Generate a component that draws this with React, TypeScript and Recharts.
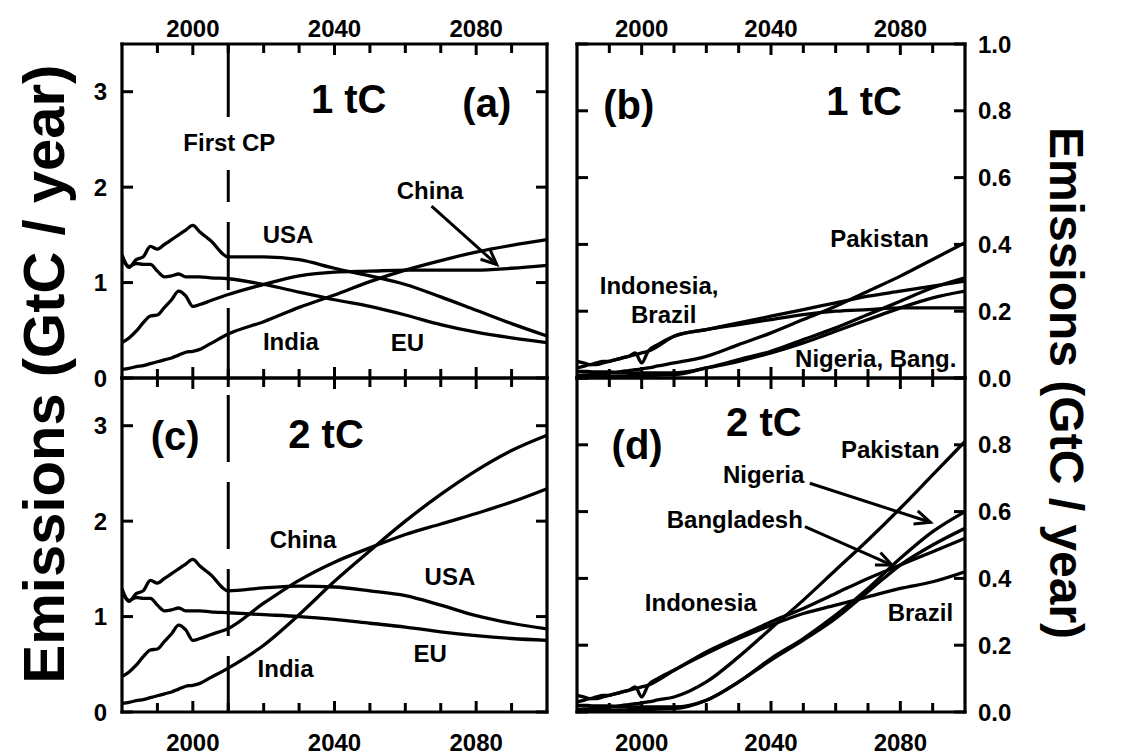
import React from 'react';
import { LineChart, Line, XAxis, YAxis, ReferenceLine, ReferenceDot } from 'recharts';

// years shared by every series
const histYears = [1980, 1982, 1984, 1986, 1988, 1990, 1992, 1994, 1996, 1998, 2000, 2002, 2005, 2010];
const projYears = [2020, 2030, 2040, 2050, 2060, 2070, 2080, 2090, 2100];

// large emitters, historical (GtC / year)
const usaHist = [1.29, 1.16, 1.24, 1.27, 1.38, 1.35, 1.4, 1.45, 1.5, 1.55, 1.6, 1.53, 1.44, 1.27];
const euHist = [1.25, 1.17, 1.2, 1.19, 1.19, 1.12, 1.06, 1.07, 1.09, 1.06, 1.06, 1.06, 1.05, 1.04];
const chinaHist = [0.37, 0.42, 0.49, 0.58, 0.65, 0.66, 0.74, 0.82, 0.91, 0.86, 0.75, 0.77, 0.81, 0.875];
const indiaHist = [0.09, 0.1, 0.12, 0.13, 0.15, 0.17, 0.19, 0.21, 0.24, 0.27, 0.28, 0.3, 0.36, 0.46];

// large emitters, 1 tC per capita
const usa1 = [1.27, 1.24, 1.15, 1.07, 0.98, 0.85, 0.71, 0.57, 0.44];
const eu1 = [0.98, 0.9, 0.82, 0.75, 0.66, 0.56, 0.48, 0.42, 0.37];
const china1 = [0.98, 1.07, 1.11, 1.12, 1.13, 1.13, 1.13, 1.15, 1.18];
const india1 = [0.59, 0.74, 0.87, 1.01, 1.13, 1.23, 1.32, 1.39, 1.45];

// large emitters, 2 tC per capita
const usa2 = [1.3, 1.32, 1.31, 1.27, 1.22, 1.12, 1.01, 0.93, 0.87];
const eu2 = [1.02, 1.0, 0.97, 0.93, 0.89, 0.84, 0.8, 0.77, 0.75];
const china2 = [1.14, 1.38, 1.57, 1.72, 1.86, 1.97, 2.08, 2.2, 2.34];
const india2 = [0.7, 1.02, 1.37, 1.69, 2.0, 2.28, 2.53, 2.74, 2.9];

// smaller emitters, historical
const indoHist = [0.03, 0.035, 0.04, 0.04, 0.045, 0.05, 0.055, 0.06, 0.065, 0.075, 0.045, 0.08, 0.1, 0.125];
const brazilHist = [0.05, 0.045, 0.04, 0.045, 0.05, 0.05, 0.055, 0.06, 0.065, 0.07, 0.075, 0.08, 0.095, 0.125];
const pakHist = [0.008, 0.009, 0.01, 0.011, 0.013, 0.015, 0.017, 0.02, 0.022, 0.025, 0.027, 0.03, 0.036, 0.045];
const nigHist = [0.02, 0.02, 0.019, 0.018, 0.018, 0.018, 0.017, 0.016, 0.016, 0.015, 0.015, 0.015, 0.015, 0.015];
const bangHist = [0.003, 0.003, 0.004, 0.004, 0.005, 0.005, 0.006, 0.006, 0.007, 0.007, 0.007, 0.008, 0.009, 0.01];

// smaller emitters, 1 tC
const indo1 = [0.145, 0.165, 0.185, 0.205, 0.225, 0.245, 0.26, 0.275, 0.29];
const brazil1 = [0.145, 0.16, 0.175, 0.19, 0.2, 0.205, 0.21, 0.21, 0.21];
const pak1 = [0.065, 0.1, 0.135, 0.175, 0.215, 0.26, 0.305, 0.355, 0.405];
const nig1 = [0.03, 0.055, 0.08, 0.115, 0.15, 0.19, 0.23, 0.27, 0.3];
const bang1 = [0.03, 0.05, 0.075, 0.105, 0.14, 0.175, 0.21, 0.24, 0.26];

// smaller emitters, 2 tC
const indo2 = [0.18, 0.225, 0.27, 0.31, 0.355, 0.4, 0.44, 0.48, 0.52];
const brazil2 = [0.175, 0.22, 0.26, 0.295, 0.32, 0.345, 0.37, 0.39, 0.42];
const pak2 = [0.09, 0.165, 0.25, 0.335, 0.425, 0.515, 0.61, 0.71, 0.81];
const nig2 = [0.035, 0.09, 0.16, 0.22, 0.29, 0.37, 0.46, 0.54, 0.6];
const bang2 = [0.035, 0.09, 0.155, 0.215, 0.28, 0.36, 0.44, 0.5, 0.55];

const bigNames = ['USA', 'EU', 'China', 'India'];
const smallNames = ['Indonesia', 'Brazil', 'Pakistan', 'Nigeria', 'Bangladesh'];

const xTicks = [1990, 2000, 2010, 2020, 2030, 2040, 2050, 2060, 2070, 2080, 2090];
const xLabels = [2000, 2040, 2080];
const bigTicks = [0, 1, 2, 3];
const smallTicks = [0, 0.2, 0.4, 0.6, 0.8, 1.0];
const smallTicksLower = [0, 0.2, 0.4, 0.6, 0.8];

const buildRows = (names: string[], hist: number[][], proj: number[][]) => [
  ...histYears.map((year, i) => {
    const r: any = { year };
    names.forEach((n, k) => (r[n] = hist[k][i]));
    return r;
  }),
  ...projYears.map((year, i) => {
    const r: any = { year };
    names.forEach((n, k) => (r[n] = proj[k][i]));
    return r;
  }),
];

const bigHist = [usaHist, euHist, chinaHist, indiaHist];
const smallHist = [indoHist, brazilHist, pakHist, nigHist, bangHist];
const dataA = buildRows(bigNames, bigHist, [usa1, eu1, china1, india1]);
const dataC = buildRows(bigNames, bigHist, [usa2, eu2, china2, india2]);
const dataB = buildRows(smallNames, smallHist, [indo1, brazil1, pak1, nig1, bang1]);
const dataD = buildRows(smallNames, smallHist, [indo2, brazil2, pak2, nig2, bang2]);

const FONT = "Arial, 'Liberation Sans', Helvetica, sans-serif";
const PAD = { l: 70, r: 70, t: 45, b: 45 };
const AXIS = { stroke: '#000', strokeWidth: 3.2, strokeLinecap: 'square' as const };
const LW = 3.3;

type Side = 'top' | 'bottom' | 'left' | 'right';

const tickShape = (side: Side, labels: number[], fmt: (v: number) => string, longSet: number[]) => (p: any) => {
  const { x, y, payload } = p;
  const v = payload.value as number;
  const len = longSet.includes(v) ? 11 : 9;
  const show = labels.includes(v);
  const ln = { stroke: '#000', strokeWidth: 3 };
  const tx = { fontSize: 24, fontWeight: 'bold' as const, fontFamily: FONT, fill: '#000' };
  if (side === 'bottom')
    return (
      <g>
        <line x1={x} y1={y} x2={x} y2={y - len} {...ln} />
        {show && <text x={x} y={y + 30} textAnchor="middle" dominantBaseline="central" {...tx}>{fmt(v)}</text>}
      </g>
    );
  if (side === 'top')
    return (
      <g>
        <line x1={x} y1={y} x2={x} y2={y + len} {...ln} />
        {show && <text x={x} y={y - 16} textAnchor="middle" dominantBaseline="central" {...tx}>{fmt(v)}</text>}
      </g>
    );
  if (side === 'left')
    return (
      <g>
        <line x1={x} y1={y} x2={x + len} y2={y} {...ln} />
        {show && <text x={x - 15} y={y} textAnchor="end" dominantBaseline="central" {...tx}>{fmt(v)}</text>}
      </g>
    );
  return (
    <g>
      <line x1={x} y1={y} x2={x - len} y2={y} {...ln} />
      {show && <text x={x + 13} y={y} textAnchor="start" dominantBaseline="central" {...tx}>{fmt(v)}</text>}
    </g>
  );
};

const note = (key: string, x: number, y: number, text: string, size = 24) => (
  <ReferenceDot
    key={key}
    xAxisId="b"
    yAxisId="l"
    x={x}
    y={y}
    r={0}
    ifOverflow="visible"
    shape={(p: any) => (
      <text x={p.cx} y={p.cy} textAnchor="middle" dominantBaseline="central" fontSize={size} fontWeight="bold" fontFamily={FONT} fill="#000">
        {text}
      </text>
    )}
  />
);

const ArrowShape = (p: any) => {
  const { x1, y1, x2, y2 } = p;
  const a = Math.atan2(y2 - y1, x2 - x1);
  const L = 17;
  const s = 0.42;
  const h1 = [x2 - L * Math.cos(a - s), y2 - L * Math.sin(a - s)];
  const h2 = [x2 - L * Math.cos(a + s), y2 - L * Math.sin(a + s)];
  return (
    <g>
      <line x1={x1} y1={y1} x2={x2} y2={y2} stroke="#000" strokeWidth={3} />
      <polyline points={`${h1[0]},${h1[1]} ${x2},${y2} ${h2[0]},${h2[1]}`} fill="none" stroke="#000" strokeWidth={3} />
    </g>
  );
};

const arrow = (key: string, from: [number, number], to: [number, number]) => (
  <ReferenceLine
    key={key}
    xAxisId="b"
    yAxisId="l"
    segment={[{ x: from[0], y: from[1] }, { x: to[0], y: to[1] }]}
    ifOverflow="visible"
    shape={(p: any) => <ArrowShape {...p} />}
  />
);

const firstCP = (key: string, dash: string, offset: number) => (
  <ReferenceLine
    key={key}
    xAxisId="b"
    yAxisId="l"
    x={2010}
    shape={(p: any) => (
      <line
        x1={p.x1}
        x2={p.x1}
        y1={Math.min(p.y1, p.y2)}
        y2={Math.max(p.y1, p.y2)}
        stroke="#000"
        strokeWidth={3}
        strokeDasharray={dash}
        strokeDashoffset={offset}
      />
    )}
  />
);

type PanelProps = {
  box: { left: number; top: number; width: number; height: number };
  data: any[];
  series: string[];
  yMax: number;
  yTicks: number[];
  yLabels: number[];
  xSide: 'top' | 'bottom';
  ySide: 'left' | 'right';
  yFmt: (v: number) => string;
  children?: React.ReactNode;
};

function Panel({ box, data, series, yMax, yTicks, yLabels, xSide, ySide, yFmt, children }: PanelProps) {
  const w = box.width + PAD.l + PAD.r;
  const h = box.height + PAD.t + PAD.b;
  const xf = (v: number) => String(v);
  return (
    <div style={{ position: 'absolute', left: box.left - PAD.l, top: box.top - PAD.t }}>
      <LineChart width={w} height={h} data={data} margin={{ top: 0, right: 0, bottom: 0, left: 0 }}>
        <XAxis xAxisId="b" orientation="bottom" dataKey="year" type="number" domain={[1980, 2100]} ticks={xTicks} interval={0} height={PAD.b} tickSize={0} tickMargin={0} tickLine={false} axisLine={AXIS} tick={tickShape('bottom', xSide === 'bottom' ? xLabels : [], xf, xLabels)} allowDataOverflow />
        <XAxis xAxisId="t" orientation="top" dataKey="year" type="number" domain={[1980, 2100]} ticks={xTicks} interval={0} height={PAD.t} tickSize={0} tickMargin={0} tickLine={false} axisLine={AXIS} tick={tickShape('top', xSide === 'top' ? xLabels : [], xf, xLabels)} allowDataOverflow />
        <YAxis yAxisId="l" orientation="left" type="number" domain={[0, yMax]} ticks={yTicks} interval={0} width={PAD.l} tickSize={0} tickMargin={0} tickLine={false} axisLine={AXIS} tick={tickShape('left', ySide === 'left' ? yLabels : [], yFmt, yTicks)} allowDataOverflow />
        <YAxis yAxisId="r" orientation="right" type="number" domain={[0, yMax]} ticks={yTicks} interval={0} width={PAD.r} tickSize={0} tickMargin={0} tickLine={false} axisLine={AXIS} tick={tickShape('right', ySide === 'right' ? yLabels : [], yFmt, yTicks)} allowDataOverflow />
        {series.map((s) => (
          <Line key={s} xAxisId="b" yAxisId="l" dataKey={s} type="monotone" stroke="#000" strokeWidth={LW} dot={false} activeDot={false} isAnimationActive={false} />
        ))}
        {children}
      </LineChart>
    </div>
  );
}

const boxA = { left: 122, top: 44, width: 425, height: 334 };
const boxC = { left: 122, top: 378, width: 425, height: 334 };
const boxB = { left: 577, top: 44, width: 388, height: 334 };
const boxD = { left: 577, top: 378, width: 388, height: 334 };

export default function App() {
  const intFmt = (v: number) => String(v);
  const decFmt = (v: number) => v.toFixed(1);
  return (
    <div style={{ position: 'absolute', left: 0, top: 0, width: 1141, height: 756, background: '#fff', overflow: 'hidden' }}>
      <Panel box={boxA} data={dataA} series={bigNames} yMax={3.5} yTicks={bigTicks} yLabels={bigTicks} xSide="top" ySide="left" yFmt={intFmt}>
        {firstCP('cpA', '73 53 32 20 68 18 90', 0)}
        {note('a1', 2044, 2.92, '1 tC', 40)}
        {note('a2', 2083, 2.88, '(a)', 40)}
        {note('a3', 2010.3, 2.47, 'First CP')}
        {note('a4', 2067, 1.96, 'China')}
        {note('a5', 2026.9, 1.5, 'USA')}
        {note('a6', 2027.7, 0.38, 'India')}
        {note('a7', 2060.6, 0.37, 'EU')}
        {arrow('a8', [2067.4, 1.8], [2085.8, 1.19])}
      </Panel>
      <Panel box={boxC} data={dataC} series={bigNames} yMax={3.5} yTicks={bigTicks} yLabels={bigTicks} xSide="bottom" ySide="left" yFmt={intFmt}>
        {firstCP('cpC', '67 20', 70)}
        {note('c1', 1995, 2.89, '(c)', 40)}
        {note('c2', 2037.6, 2.91, '2 tC', 40)}
        {note('c3', 2031.1, 1.81, 'China')}
        {note('c4', 2072.6, 1.42, 'USA')}
        {note('c5', 2067, 0.61, 'EU')}
        {note('c6', 2026.2, 0.46, 'India')}
      </Panel>
      <Panel box={boxB} data={dataB} series={smallNames} yMax={1} yTicks={smallTicks} yLabels={smallTicks} xSide="top" ySide="right" yFmt={decFmt}>
        {note('b1', 1996, 0.817, '(b)', 40)}
        {note('b2', 2068.8, 0.83, '1 tC', 40)}
        {note('b3', 2073.6, 0.417, 'Pakistan')}
        {note('b4', 2005.4, 0.276, 'Indonesia,')}
        {note('b5', 2006.8, 0.19, 'Brazil')}
        {note('b6', 2072.4, 0.057, 'Nigeria, Bang.')}
      </Panel>
      <Panel box={boxD} data={dataD} series={smallNames} yMax={1} yTicks={smallTicks} yLabels={smallTicksLower} xSide="bottom" ySide="right" yFmt={decFmt}>
        {note('d1', 1998.6, 0.8, '(d)', 40)}
        {note('d2', 2037.8, 0.868, '2 tC', 40)}
        {note('d3', 2076.9, 0.787, 'Pakistan')}
        {note('d4', 2037.7, 0.71, 'Nigeria')}
        {note('d5', 2028.8, 0.577, 'Bangladesh')}
        {note('d6', 2018.3, 0.327, 'Indonesia')}
        {note('d7', 2086.2, 0.297, 'Brazil')}
        {arrow('d8', [2052, 0.685], [2089.3, 0.568])}
        {arrow('d9', [2050.5, 0.555], [2077.4, 0.44])}
      </Panel>
      <svg width={1141} height={756} style={{ position: 'absolute', left: 0, top: 0, pointerEvents: 'none' }}>
        <text transform="translate(64,374) rotate(-90)" textAnchor="middle" fontSize={58} fontWeight="bold" fontFamily={FONT} fill="#000">
          Emissions (GtC / year)
        </text>
        <text transform="translate(1050,383) rotate(90)" textAnchor="middle" fontSize={48} fontWeight="bold" fontFamily={FONT} fill="#000">
          Emissions (GtC / year)
        </text>
      </svg>
    </div>
  );
}
